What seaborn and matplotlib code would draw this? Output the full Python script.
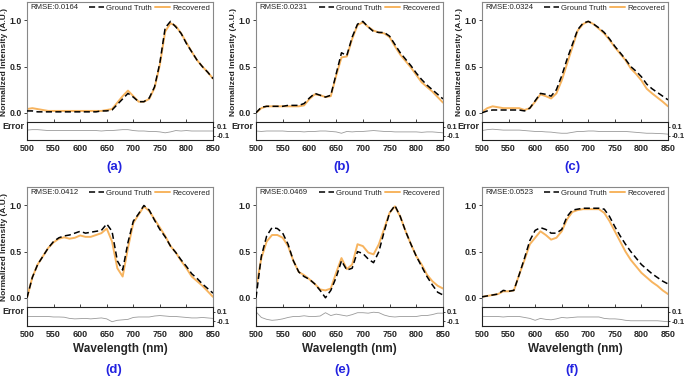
import numpy as np
import pandas as pd
import matplotlib
matplotlib.use('Agg')
import matplotlib.pyplot as plt
import seaborn as sns

# wavelength grid (nm)
wavelength = list(range(500, 851, 10))

# values, one pair of series per panel
a_truth = [0.02, 0.02, 0.01, 0.01, 0.01, 0.01, 0.01, 0.01, 0.01, 0.01, 0.01, 0.01, 0.01, 0.01, 0.02, 0.02, 0.03, 0.09,
           0.15, 0.21, 0.17, 0.12, 0.12, 0.16, 0.28, 0.54, 0.92, 0.99, 0.93, 0.86, 0.75, 0.66, 0.57, 0.50, 0.44, 0.37]
a_recov = [0.04, 0.05, 0.04, 0.03, 0.02, 0.02, 0.02, 0.02, 0.02, 0.02, 0.02, 0.02, 0.02, 0.02, 0.02, 0.03, 0.04, 0.11,
           0.18, 0.24, 0.18, 0.12, 0.12, 0.15, 0.27, 0.52, 0.88, 0.97, 0.94, 0.86, 0.76, 0.66, 0.57, 0.50, 0.44, 0.37]

b_truth = [0.00, 0.06, 0.07, 0.07, 0.07, 0.07, 0.08, 0.08, 0.08, 0.10, 0.16, 0.21, 0.19, 0.17, 0.19, 0.42, 0.65, 0.62,
           0.82, 0.96, 0.99, 0.93, 0.88, 0.87, 0.87, 0.83, 0.74, 0.65, 0.58, 0.51, 0.43, 0.36, 0.30, 0.25, 0.20, 0.15]
b_recov = [0.00, 0.05, 0.07, 0.07, 0.07, 0.07, 0.07, 0.07, 0.07, 0.08, 0.15, 0.20, 0.19, 0.17, 0.18, 0.40, 0.60, 0.61,
           0.80, 0.95, 0.98, 0.93, 0.89, 0.87, 0.86, 0.82, 0.72, 0.63, 0.56, 0.49, 0.41, 0.33, 0.28, 0.23, 0.17, 0.11]

c_truth = [0.00, 0.02, 0.03, 0.03, 0.03, 0.03, 0.03, 0.03, 0.02, 0.05, 0.13, 0.21, 0.20, 0.18, 0.25, 0.40, 0.58, 0.74,
           0.90, 0.97, 0.99, 0.96, 0.92, 0.87, 0.80, 0.72, 0.65, 0.58, 0.50, 0.45, 0.39, 0.31, 0.26, 0.22, 0.18, 0.14]
c_recov = [0.01, 0.05, 0.07, 0.06, 0.05, 0.05, 0.05, 0.05, 0.03, 0.05, 0.12, 0.20, 0.18, 0.155, 0.21, 0.35, 0.53, 0.71,
           0.89, 0.96, 0.99, 0.96, 0.91, 0.86, 0.79, 0.71, 0.64, 0.57, 0.48, 0.42, 0.35, 0.26, 0.21, 0.165, 0.12, 0.07]

d_truth = [0.00, 0.22, 0.36, 0.45, 0.54, 0.61, 0.65, 0.67, 0.68, 0.70, 0.72, 0.70, 0.71, 0.72, 0.73, 0.80, 0.72, 0.40,
           0.30, 0.60, 0.83, 0.91, 1.00, 0.95, 0.84, 0.74, 0.66, 0.56, 0.49, 0.41, 0.34, 0.26, 0.21, 0.15, 0.10, 0.05]
d_recov = [0.00, 0.22, 0.36, 0.45, 0.54, 0.60, 0.64, 0.655, 0.64, 0.65, 0.675, 0.66, 0.66, 0.68, 0.70, 0.75, 0.61, 0.32,
           0.23, 0.54, 0.81, 0.90, 0.99, 0.94, 0.85, 0.76, 0.67, 0.56, 0.49, 0.40, 0.32, 0.23, 0.18, 0.13, 0.07, 0.01]

e_truth = [0.00, 0.45, 0.67, 0.76, 0.75, 0.70, 0.58, 0.40, 0.28, 0.23, 0.20, 0.15, 0.08, 0.00, 0.08, 0.22, 0.40, 0.30,
           0.32, 0.50, 0.48, 0.42, 0.38, 0.50, 0.72, 0.92, 1.00, 0.88, 0.72, 0.58, 0.45, 0.34, 0.23, 0.14, 0.06, 0.03]
e_recov = [0.10, 0.43, 0.61, 0.68, 0.68, 0.65, 0.56, 0.40, 0.28, 0.245, 0.20, 0.15, 0.09, 0.08, 0.10, 0.27, 0.43, 0.31,
           0.36, 0.58, 0.56, 0.49, 0.47, 0.58, 0.75, 0.92, 0.99, 0.88, 0.72, 0.58, 0.45, 0.36, 0.25, 0.18, 0.13, 0.10]

f_truth = [0.01, 0.02, 0.03, 0.04, 0.08, 0.07, 0.08, 0.25, 0.43, 0.62, 0.73, 0.76, 0.74, 0.70, 0.70, 0.74, 0.88, 0.95,
           0.96, 0.97, 0.97, 0.97, 0.97, 0.96, 0.88, 0.77, 0.67, 0.58, 0.50, 0.43, 0.36, 0.31, 0.26, 0.22, 0.18, 0.15]
f_recov = [0.01, 0.02, 0.03, 0.04, 0.07, 0.07, 0.08, 0.25, 0.41, 0.58, 0.65, 0.72, 0.68, 0.63, 0.65, 0.72, 0.85, 0.93,
           0.95, 0.96, 0.96, 0.96, 0.96, 0.92, 0.83, 0.72, 0.61, 0.50, 0.41, 0.34, 0.27, 0.22, 0.17, 0.13, 0.08, 0.04]

panel_tags = ['(a)', '(b)', '(c)', '(d)', '(e)', '(f)']
rmse_values = ['0.0164', '0.0231', '0.0324', '0.0412', '0.0469', '0.0523']
x_ticks = [500, 550, 600, 650, 700, 750, 800, 850]

truths = [a_truth, b_truth, c_truth, d_truth, e_truth, f_truth]
recovs = [a_recov, b_recov, c_recov, d_recov, e_recov, f_recov]

ORANGE = '#F7B45F'
BLUE = '#2323E0'

sns.set_style('ticks')
plt.rcParams['font.family'] = ['Liberation Sans', 'DejaVu Sans']

W, H = 685, 379
fig = plt.figure(figsize=(W / 100, H / 100), dpi=100)

# pixel layout: left edges, widths, rows (top, separator, bottom)
lefts = [27, 256, 482]
widths = [186, 187, 186]
rows = [(2, 122, 140), (187, 307, 326)]
tag_x = [114, 342, 572]
tag_y = [167, 370]


def fbox(x0, y_top, w, y_bot):
    return [x0 / W, 1 - y_bot / H, w / W, (y_bot - y_top) / H]


for i in range(6):
    r, c = divmod(i, 3)
    top, sep, bot = rows[r]
    ax = fig.add_axes(fbox(lefts[c], top, widths[c], sep))
    ex = fig.add_axes(fbox(lefts[c], sep, widths[c], bot))

    df = pd.DataFrame({'wl': wavelength, 'truth': truths[i], 'recov': recovs[i]})
    df['err'] = df['recov'] - df['truth']

    sns.lineplot(data=df, x='wl', y='truth', ax=ax, color='black', lw=1.1,
                 linestyle=(0, (4, 2.2)), label='Ground Truth', zorder=3)
    sns.lineplot(data=df, x='wl', y='recov', ax=ax, color=ORANGE, lw=1.4,
                 label='Recovered', zorder=2)
    sns.lineplot(data=df, x='wl', y='err', ax=ex, color='#9a9a9a', lw=0.6)

    ax.set_xlim(500, 850)
    ax.set_ylim(-0.1, 1.2)
    ax.set_xticks(x_ticks)
    ax.set_xticklabels([])
    ax.set_yticks([0.0, 0.5, 1.0])
    ax.set_yticklabels(['0.0', '0.5', '1.0'], fontsize=6.2, fontweight='bold')
    ax.tick_params(axis='x', direction='in', length=2.5, width=0.6)
    ax.tick_params(axis='y', direction='out', length=2, width=0.6, pad=1.5)
    ax.set_xlabel('')
    for s in ['top', 'right', 'left']:
        ax.spines[s].set_color('#888888')
        ax.spines[s].set_linewidth(0.8)
    ax.spines['bottom'].set_visible(False)

    ax.text(0.016, 0.958, 'RMSE:' + rmse_values[i], transform=ax.transAxes,
            fontsize=5.6, va='center', ha='left', color='#222222')
    ax.legend(loc='upper right', bbox_to_anchor=(1.0, 1.0), ncol=2, frameon=False,
              fontsize=5.6, handlelength=2.0, handletextpad=0.3, columnspacing=0.3,
              borderpad=0.2, borderaxespad=0.15)

    ex.set_xlim(500, 850)
    ex.set_ylim(-0.2, 0.2)
    ex.set_xticks(x_ticks)
    ex.set_xticklabels([str(t) for t in x_ticks], fontsize=6.5, fontweight='bold')
    ex.tick_params(axis='x', length=0, pad=3)
    ex.yaxis.tick_right()
    ex.set_yticks([0.1, -0.1])
    ex.set_yticklabels(['0.1', '-0.1'], fontsize=5.5, fontweight='bold')
    ex.tick_params(axis='y', direction='out', length=1.5, width=0.6, pad=1.5)
    for s in ex.spines.values():
        s.set_color('#222222')
        s.set_linewidth(0.8)

    if r == 0 or c == 0:
        ax.set_ylabel('Normalized Intensity (A.U.)', fontsize=6, fontweight='bold')
        ax.yaxis.set_label_coords(-0.1, 0.5)
        ex.set_ylabel('Error', fontsize=6.5, fontweight='bold', rotation=0,
                      ha='right', va='center')
        ex.yaxis.set_label_position('left')
        ex.yaxis.set_label_coords(-0.012, 0.5)
    else:
        ax.set_ylabel('')
        ex.set_ylabel('')

    if r == 1:
        ex.set_xlabel('Wavelength (nm)', fontsize=8.5, fontweight='bold', labelpad=3)
    else:
        ex.set_xlabel('')

    fig.text(tag_x[c] / W, 1 - tag_y[r] / H, panel_tags[i], color=BLUE,
             fontsize=9.5, fontweight='bold', ha='center', va='center')

fig.savefig('out.png', dpi=100)
